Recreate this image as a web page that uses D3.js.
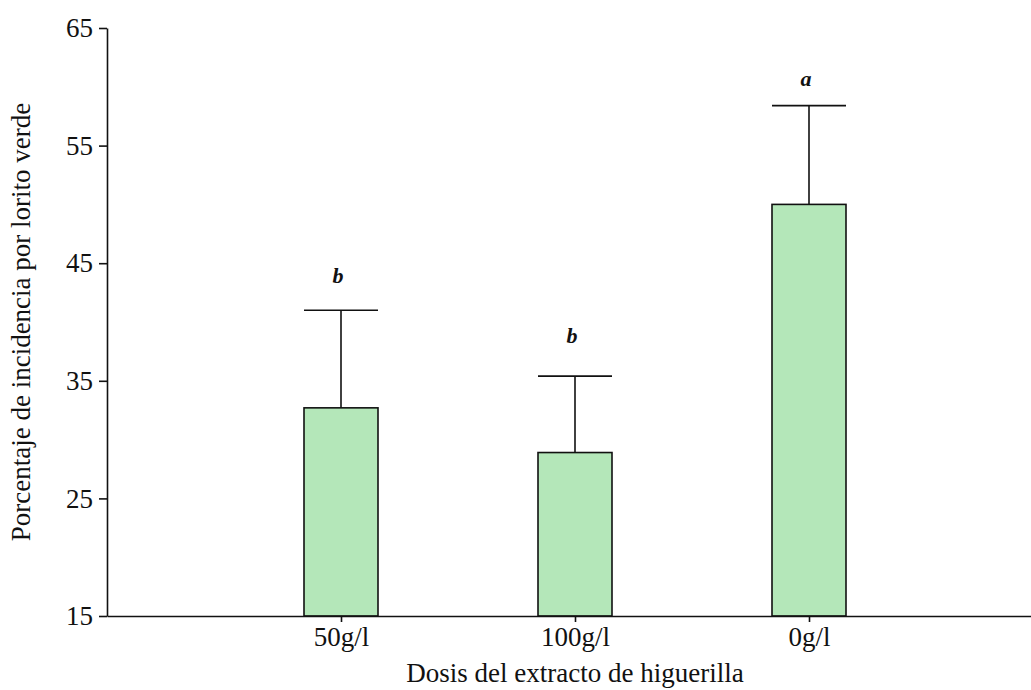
<!DOCTYPE html>
<html>
<head>
<meta charset="utf-8">
<script src="https://cdn.jsdelivr.net/npm/d3@7"></script>
<style>
  html, body { margin: 0; padding: 0; background: #fff; }
  svg { display: block; }
  text { font-family: "Liberation Serif", "Times New Roman", serif; fill: #111; }
</style>
</head>
<body>
<svg id="chart" width="1031" height="690"></svg>
<script>
const categories = ["50g/l", "100g/l", "0g/l"];
const means = [32.7, 28.9, 50.0];
const errorTops = [41.0, 35.4, 58.4];
const letters = ["b", "b", "a"];
const letterPos = [43.3, 38.2, 60.1];
const yTicks = [15, 25, 35, 45, 55, 65];
const yTitle = "Porcentaje de incidencia por lorito verde";
const xTitle = "Dosis del extracto de higuerilla";

const svg = d3.select("#chart");
const x = d3.scaleLinear().domain([0, 4]).range([107, 1043]);
const y = d3.scaleLinear().domain([15, 65]).range([616, 28]);
const barW = 74;
const idx = categories.map((d, i) => i + 1);

// bars
svg.selectAll("rect.bar").data(means).join("rect")
  .attr("class", "bar")
  .attr("x", (d, i) => x(idx[i]) - barW / 2)
  .attr("width", barW)
  .attr("y", d => y(d))
  .attr("height", d => y(15) - y(d))
  .attr("fill", "#b4e7b9")
  .attr("stroke", "#111")
  .attr("stroke-width", 1.6);

// error bars
const eb = svg.selectAll("g.err").data(errorTops).join("g").attr("class", "err");
eb.append("line")
  .attr("x1", (d, i) => x(idx[i])).attr("x2", (d, i) => x(idx[i]))
  .attr("y1", (d, i) => y(means[i])).attr("y2", d => y(d))
  .attr("stroke", "#111").attr("stroke-width", 1.6);
eb.append("line")
  .attr("x1", (d, i) => x(idx[i]) - barW / 2).attr("x2", (d, i) => x(idx[i]) + barW / 2)
  .attr("y1", d => y(d)).attr("y2", d => y(d))
  .attr("stroke", "#111").attr("stroke-width", 1.6);

// significance letters
svg.selectAll("text.sig").data(letters).join("text")
  .attr("class", "sig")
  .attr("x", (d, i) => x(idx[i]) - 3)
  .attr("y", (d, i) => y(letterPos[i]))
  .attr("text-anchor", "middle")
  .style("font-size", "22px")
  .style("font-weight", "bold")
  .style("font-style", "italic")
  .text(d => d);

// axes
const yAxis = d3.axisLeft(y).tickValues(yTicks).tickSize(8).tickSizeOuter(0).tickPadding(6);
const gy = svg.append("g").attr("transform", `translate(${x(0)},0)`).call(yAxis);
gy.selectAll("text").style("font-size", "27px").style("font-family", "Liberation Serif").attr("fill", "#111");
gy.selectAll("line, path").attr("stroke", "#111").attr("stroke-width", 1.6);

const xAxis = d3.axisBottom(x).tickValues(idx).tickFormat((d, i) => categories[i])
  .tickSize(6).tickSizeOuter(0).tickPadding(5);
const gx = svg.append("g").attr("transform", `translate(0,${y(15)})`).call(xAxis);
gx.selectAll("text").style("font-size", "27px").style("font-family", "Liberation Serif").attr("fill", "#111");
gx.selectAll("line, path").attr("stroke", "#111").attr("stroke-width", 1.6);

// titles
svg.append("text")
  .attr("x", x(2))
  .attr("y", 682)
  .attr("text-anchor", "middle")
  .style("font-size", "27px")
  .text(xTitle);

svg.append("text")
  .attr("transform", `translate(30,${(y(15) + y(65)) / 2}) rotate(-90)`)
  .attr("text-anchor", "middle")
  .style("font-size", "27px")
  .text(yTitle);
</script>
</body>
</html>
